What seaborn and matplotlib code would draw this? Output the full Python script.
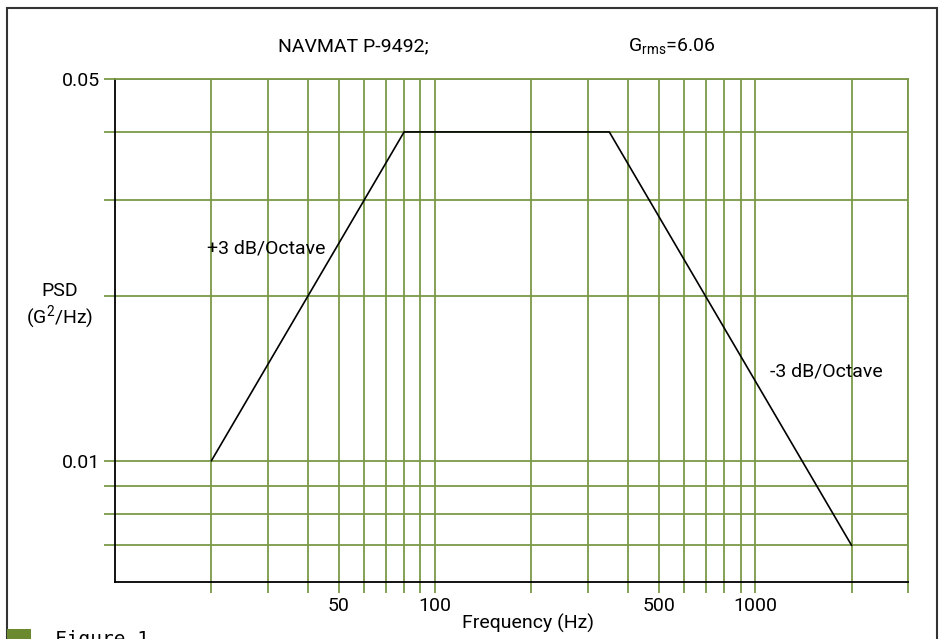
import matplotlib
matplotlib.use("Agg")
import matplotlib.pyplot as plt
import matplotlib.ticker as mticker
from matplotlib.patches import Rectangle
import seaborn as sns

# --- DATA ---
freq = [20, 80, 350, 2000]
psd = [0.01, 0.04, 0.04, 0.007]

x_grid = [20, 30, 40, 50, 60, 70, 80, 90, 100, 200, 300, 400, 500,
          600, 700, 800, 900, 1000, 2000, 3000]
x_labeled = [50, 100, 500, 1000]
y_grid = [0.007, 0.008, 0.009, 0.01, 0.02, 0.03, 0.04, 0.05]
y_labeled = [0.01, 0.05]

GREEN = '#7b9a48'
FONT = ['Roboto', 'DejaVu Sans']

W, H = 939, 639


def fx(x):
    return x / W


def fy(y):
    return 1 - y / H


sns.set_style('white')
plt.rcParams['font.family'] = FONT
plt.rcParams['text.color'] = 'black'
plt.rcParams['xtick.labelcolor'] = 'black'
plt.rcParams['ytick.labelcolor'] = 'black'
plt.rcParams['mathtext.fontset'] = 'custom'
plt.rcParams['mathtext.rm'] = 'Roboto'
plt.rcParams['mathtext.it'] = 'Roboto'

fig = plt.figure(figsize=(W / 100, H / 100), dpi=100)
ax = fig.add_axes([fx(115), fy(582), fx(908) - fx(115), fy(79) - fy(582)])

ax.set_xscale('log')
ax.set_yscale('log')
sns.lineplot(x=freq, y=psd, ax=ax, color='black', lw=1.2, sort=False)
ax.set_xlim(10, 3000)
ax.set_ylim(0.006, 0.05)

ax.xaxis.set_major_locator(mticker.FixedLocator(x_grid))
ax.xaxis.set_minor_locator(mticker.NullLocator())
ax.xaxis.set_major_formatter(mticker.FixedFormatter(
    [str(v) if v in x_labeled else '' for v in x_grid]))
ax.yaxis.set_major_locator(mticker.FixedLocator(y_grid))
ax.yaxis.set_minor_locator(mticker.NullLocator())
ax.yaxis.set_major_formatter(mticker.FixedFormatter(
    [f'{v:g}' if v in y_labeled else '' for v in y_grid]))

ax.set_axisbelow(True)
ax.grid(True, color=GREEN, lw=1.3)
ax.tick_params(length=8, width=1.3, color=GREEN, labelsize=14, pad=3,
               labelcolor='black', bottom=True, left=True)
for s in ['left', 'bottom']:
    ax.spines[s].set_color('black')
    ax.spines[s].set_linewidth(1.3)
for s in ['top', 'right']:
    ax.spines[s].set_color(GREEN)
    ax.spines[s].set_linewidth(1.3)
ax.set_xlabel('')
ax.set_ylabel('')

# --- text ---
fig.text(fx(353), fy(46), 'NAVMAT P-9492;', fontsize=14, ha='center', va='center')
fig.text(fx(672), fy(46), r'G$_{\mathrm{rms}}$=6.06', fontsize=14, ha='center', va='center')
fig.text(fx(60), fy(291), 'PSD', fontsize=14, ha='center', va='center')
fig.text(fx(60), fy(317), r'(G$^{2}$/Hz)', fontsize=14, ha='center', va='center')
fig.text(fx(207), fy(248), '+3 dB/Octave', fontsize=14, ha='left', va='center')
fig.text(fx(770), fy(372), '-3 dB/Octave', fontsize=14, ha='left', va='center')
fig.text(fx(528), fy(623), 'Frequency (Hz)', fontsize=14, ha='center', va='center')

# --- frame + caption stub ---
fig.add_artist(Rectangle((fx(7), -0.2), fx(937) - fx(7), fy(8) + 0.2,
                         transform=fig.transFigure, fill=False,
                         edgecolor='#333333', lw=1.5))
fig.add_artist(Rectangle((fx(7), fy(650)), fx(31) - fx(7), fy(629) - fy(650),
                         transform=fig.transFigure, color='#6b8a2f', lw=0))
fig.text(fx(55), fy(630), 'Figure 1', fontsize=14, family='DejaVu Sans Mono',
         ha='left', va='top')

fig.savefig('out.png', dpi=100)
